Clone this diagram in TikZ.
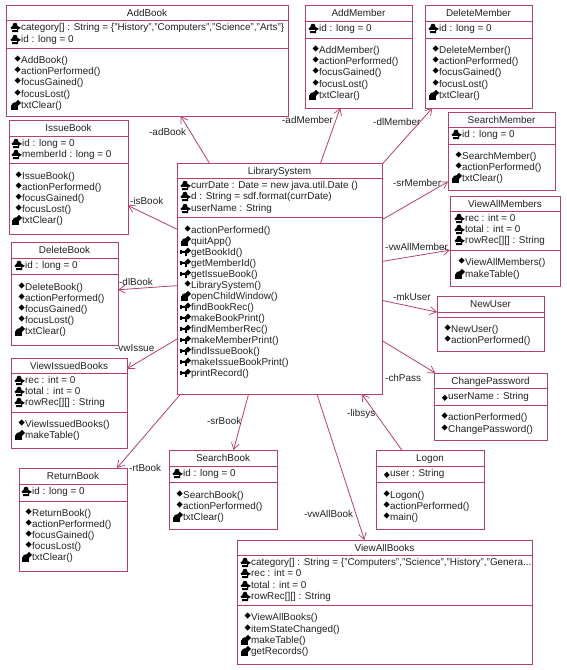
\documentclass[tikz,border=0pt]{standalone}
\usepackage{fontspec}
\setmainfont{Liberation Sans}
\usetikzlibrary{arrows.meta}
\definecolor{umlc}{HTML}{B5406F}
\definecolor{umlt}{HTML}{222222}
\newcount\tn
\tikzset{
  x=1pt,y=-1pt,
  umlbox/.style={draw=umlc,line width=0.9pt,fill=none,rectangle,inner sep=0pt,outer sep=0pt,anchor=north west},
  umlsep/.style={draw=umlc,line width=0.9pt},
  assoc/.style={draw=umlc,line width=0.8pt,-{Straight Barb[length=6.5pt,width=8pt,line width=0.7pt]}},
  lab/.style={font=\fontsize{9.9}{11}\selectfont,text=umlt,inner sep=0pt,anchor=base west},
  ttl/.style={font=\fontsize{9.9}{11}\selectfont,text=umlt,inner sep=0pt,anchor=base},
  mem/.style={font=\fontsize{9.9}{11}\selectfont,text=umlt,inner sep=0pt,anchor=base west},
}
% class box: id, x1,y1,x2,y2, sep1, sep2, title
\newcommand{\cls}[8]{%
  \pgfmathsetlengthmacro{\boxw}{(#4-#2)*1pt}\pgfmathsetlengthmacro{\boxh}{(#5-#3)*1pt}%
  \node[umlbox,minimum width=\boxw,minimum height=\boxh] (#1) at (#2,#3) {};
  \path (#1.north) ++(0,11.5) node[ttl] (#1-t) {#8};
  \draw[umlsep] (#2,#6) -- (#4,#6);
  \draw[umlsep] (#2,#7) -- (#4,#7);
}
\newcommand{\memb}[3]{\global\advance\tn by 1 \node[mem] (m\the\tn) at (#1,#2+3.6) {#3};}
\newcommand{\dmnd}[4]{\fill[black] (#1,#2-#4) -- (#1+#3,#2) -- (#1,#2+#4) -- (#1-#3,#2) -- cycle;}
% private attribute
\newcommand{\mpa}[3]{\begin{scope}[shift={(#1,#2)}]
  \fill[black] (-8,-3) -- (-7,-4.2) -- (-5,-4.2) -- (-4,-3) -- (-3.4,-1) -- (0,0.8) -- (-3,2.6) -- (-3,5) -- (-9,5) -- (-9,2.6) -- (-10.5,0.6) -- (-8.6,-1) -- cycle;
  \draw[white,line width=0.35pt] (-9,2.4) -- (-3.6,2.4);
  \end{scope}\memb{#1}{#2}{#3}}
% public attribute
\newcommand{\mua}[3]{\begin{scope}[shift={(#1,#2)}]\dmnd{-3.2}{1.8}{2.9}{3.1}\end{scope}\memb{#1}{#2}{#3}}
% public method
\newcommand{\mum}[3]{\begin{scope}[shift={(#1,#2)}]\dmnd{-3.4}{-1.5}{3}{3.1}\end{scope}\memb{#1}{#2}{#3}}
% private method
\newcommand{\mpm}[3]{\begin{scope}[shift={(#1,#2)}]
  \dmnd{-3}{-2.2}{3}{3}
  \fill[black] (-9.4,0.5) -- (-8.2,-2) -- (-6.4,-2.6) -- (-4.4,-2) -- (-3.6,0.5) -- cycle;
  \fill[black] (-10.5,0) rectangle (-3.5,4.6);
  \end{scope}\memb{#1}{#2}{#3}}
% protected method
\newcommand{\mkm}[3]{\begin{scope}[shift={(#1,#2)}]
  \dmnd{-3}{-1.3}{3}{3}
  \fill[black] (-10.5,-1.2) -- (-3,-1.2) -- (-3,0.8) -- (-10.5,1) -- cycle;
  \fill[black] (-11,-1.6) rectangle (-9,2);
  \fill[black] (-6.4,0) rectangle (-4.2,4);
  \end{scope}\memb{#1}{#2}{#3}}
\begin{document}
\begin{tikzpicture}
\useasboundingbox (0,0) rectangle (567,670);
\fill[white] (0,0) rectangle (567,670);

\cls{addbook}{6}{5}{288}{116}{20}{48}{AddBook}
\mpa{21}{27}{category[] : String = \{"History","Computers","Science","Arts"\}}
\mpa{21}{39}{id : long = 0}
\mum{21}{60}{AddBook()}
\mum{21}{71}{actionPerformed()}
\mum{21}{82}{focusGained()}
\mum{21}{94}{focusLost()}
\mpm{21}{105}{txtClear()}

\cls{addmember}{305}{5}{412}{108}{21}{38}{AddMember}
\mpa{319}{28}{id : long = 0}
\mum{319}{50}{AddMember()}
\mum{319}{61}{actionPerformed()}
\mum{319}{72}{focusGained()}
\mum{319}{84}{focusLost()}
\mpm{319}{95}{txtClear()}

\cls{delmember}{425}{5}{532}{108}{21}{38}{DeleteMember}
\mpa{439}{28}{id : long = 0}
\mum{439}{50}{DeleteMember()}
\mum{439}{61}{actionPerformed()}
\mum{439}{72}{focusGained()}
\mum{439}{84}{focusLost()}
\mpm{439}{95}{txtClear()}

\cls{srchmember}{448}{112}{555}{190}{127}{144}{SearchMember}
\mpa{462}{134}{id : long = 0}
\mum{462}{156}{SearchMember()}
\mum{462}{167}{actionPerformed()}
\mpm{462}{178}{txtClear()}

\cls{viewmembers}{450}{196}{560}{286}{211}{250}{ViewAllMembers}
\mpa{465}{218}{rec : int = 0}
\mpa{465}{229}{total : int = 0}
\mpa{465}{240}{rowRec[][] : String}
\mum{465}{262}{ViewAllMembers()}
\mpm{465}{274}{makeTable()}

\cls{newuser}{437}{296}{544}{351}{312}{317}{NewUser}
\mum{451}{329}{NewUser()}
\mum{451}{340}{actionPerformed()}

\cls{chpass}{434}{373}{547}{440}{388}{405}{ChangePassword}
\mua{448}{396}{userName : String}
\mum{448}{417}{actionPerformed()}
\mum{448}{429}{ChangePassword()}

\cls{issuebook}{9}{120}{128}{234}{136}{163}{IssueBook}
\mpa{22}{143}{id : long = 0}
\mpa{22}{154}{memberId : long = 0}
\mum{22}{176}{IssueBook()}
\mum{22}{187}{actionPerformed()}
\mum{22}{198}{focusGained()}
\mum{22}{209}{focusLost()}
\mpm{22}{220}{txtClear()}

\cls{delbook}{11}{242}{118}{345}{258}{274}{DeleteBook}
\mpa{25}{265}{id : long = 0}
\mum{25}{287}{DeleteBook()}
\mum{25}{298}{actionPerformed()}
\mum{25}{309}{focusGained()}
\mum{25}{320}{focusLost()}
\mpm{25}{331}{txtClear()}

\cls{viewissued}{11}{358}{127}{448}{373}{412}{ViewIssuedBooks}
\mpa{25}{380}{rec : int = 0}
\mpa{25}{391}{total : int = 0}
\mpa{25}{402}{rowRec[][] : String}
\mum{25}{424}{ViewIssuedBooks()}
\mpm{25}{435}{makeTable()}

\cls{retbook}{19}{468}{127}{571}{484}{501}{ReturnBook}
\mpa{32}{491}{id : long = 0}
\mum{32}{513}{ReturnBook()}
\mum{32}{524}{actionPerformed()}
\mum{32}{535}{focusGained()}
\mum{32}{546}{focusLost()}
\mpm{32}{557}{txtClear()}

\cls{srchbook}{169}{450}{277}{529}{466}{482}{SearchBook}
\mpa{183}{473}{id : long = 0}
\mum{183}{495}{SearchBook()}
\mum{183}{506}{actionPerformed()}
\mpm{183}{517}{txtClear()}

\cls{logon}{376}{450}{484}{529}{466}{482}{Logon}
\mua{390}{473}{user : String}
\mum{390}{495}{Logon()}
\mum{390}{506}{actionPerformed()}
\mum{390}{517}{main()}

\cls{viewbooks}{237}{540}{532}{664}{555}{605}{ViewAllBooks}
\mpa{251}{562}{category[] : String = \{"Computers","Science","History","Genera...}
\mpa{251}{573}{rec : int = 0}
\mpa{251}{585}{total : int = 0}
\mpa{251}{596}{rowRec[][] : String}
\mum{251}{617}{ViewAllBooks()}
\mum{251}{629}{itemStateChanged()}
\mpm{251}{640}{makeTable()}
\mpm{251}{651}{getRecords()}

\cls{lib}{177}{163}{382}{394}{178}{217}{LibrarySystem}
\mpa{191}{185}{currDate : Date = new java.util.Date ()}
\mpa{191}{196}{d : String = sdf.format(currDate)}
\mpa{191}{208}{userName : String}
\mum{191}{230}{actionPerformed()}
\mpm{191}{241}{quitApp()}
\mkm{191}{252}{getBookId()}
\mkm{191}{263}{getMemberId()}
\mkm{191}{274}{getIssueBook()}
\mum{191}{285}{LibrarySystem()}
\mpm{191}{296}{openChildWindow()}
\mkm{191}{307}{findBookRec()}
\mkm{191}{318}{makeBookPrint()}
\mkm{191}{329}{findMemberRec()}
\mkm{191}{340}{makeMemberPrint()}
\mkm{191}{351}{findIssueBook()}
\mkm{191}{362}{makeIssueBookPrint()}
\mkm{191}{373}{printRecord()}

\draw[assoc] (lib) -- (addbook);
\draw[assoc] (lib) -- (addmember);
\draw[assoc] (lib) -- (delmember);
\draw[assoc] (lib) -- (srchmember);
\draw[assoc] (lib) -- (viewmembers);
\draw[assoc] (lib) -- (newuser);
\draw[assoc] (lib) -- (chpass);
\draw[assoc] (logon) -- (lib);
\draw[assoc] (lib) -- (viewbooks);
\draw[assoc] (lib) -- (srchbook);
\draw[assoc] (lib) -- (retbook);
\draw[assoc] (lib) -- (viewissued);
\draw[assoc] (lib) -- (delbook);
\draw[assoc] (lib) -- (issuebook);

\node[lab] (l1) at (149,135.5) {-adBook};
\node[lab] (l2) at (282,123.5) {-adMember};
\node[lab] (l3) at (373,125.5) {-dlMember};
\node[lab] (l4) at (393,186.5) {-srMember};
\node[lab] (l5) at (385,250.5) {-vwAllMember};
\node[lab] (l6) at (393,300.5) {-mkUser};
\node[lab] (l7) at (385,381.5) {-chPass};
\node[lab] (l8) at (347,416.5) {-libsys};
\node[lab] (l9) at (304,517.5) {-vwAllBook};
\node[lab] (l10) at (207,424.5) {-srBook};
\node[lab] (l11) at (129,471.5) {-rtBook};
\node[lab] (l12) at (115,351.5) {-vwIssue};
\node[lab] (l13) at (119,285.5) {-dlBook};
\node[lab] (l14) at (130,204.5) {-isBook};
\end{tikzpicture}
\end{document}
